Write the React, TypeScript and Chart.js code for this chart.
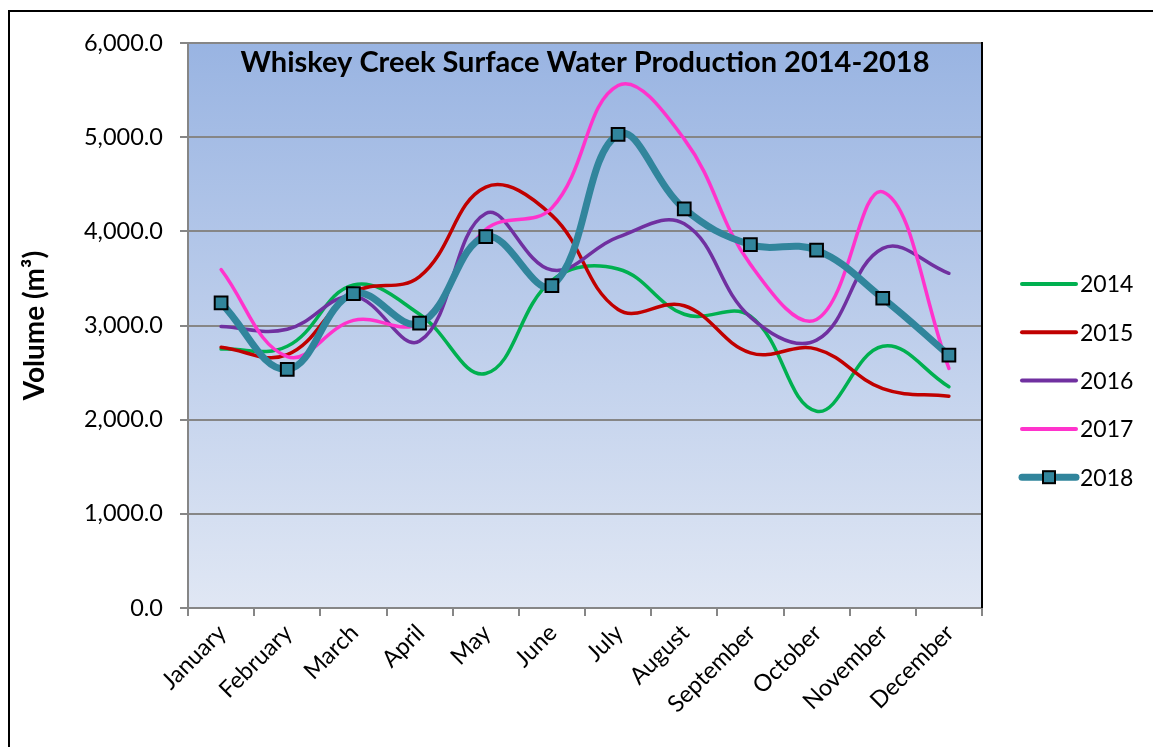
import React, { useEffect, useRef } from "react";
import { Chart, registerables } from "chart.js";

Chart.register(...registerables);

const months = ["January", "February", "March", "April", "May", "June", "July", "August", "September", "October", "November", "December"];
const series2014 = [2750, 2780, 3430, 3120, 2490, 3480, 3600, 3120, 3100, 2090, 2780, 2350];
const series2015 = [2770, 2690, 3350, 3520, 4470, 4170, 3170, 3210, 2710, 2750, 2330, 2250];
const series2016 = [2990, 2960, 3310, 2835, 4190, 3590, 3940, 4080, 3090, 2845, 3820, 3555];
const series2017 = [3595, 2670, 3055, 3030, 4020, 4250, 5550, 4980, 3650, 3065, 4420, 2545];
const series2018 = [3240, 2535, 3340, 3025, 3945, 3425, 5030, 4240, 3860, 3800, 3290, 2685];
const seriesLabels = ["2014", "2015", "2016", "2017", "2018"];
const seriesColors = ["#00b050", "#c00000", "#7030a0", "#ff33cc", "#31859c"];
const chartTitle = "Whiskey Creek Surface Water Production 2014-2018";
const yTitle = "Volume (m³)";

const FONT = "Lato, 'Open Sans', sans-serif";
const W = 1160;
const H = 760;

const bgPlugin = {
  id: "plotBg",
  beforeDraw(chart: any) {
    const { ctx, chartArea } = chart;
    const { left, right, top, bottom } = chartArea;
    const g = ctx.createLinearGradient(0, top, 0, bottom);
    g.addColorStop(0, "#99b4e2");
    g.addColorStop(1, "#e0e7f4");
    ctx.save();
    ctx.fillStyle = g;
    ctx.fillRect(left, top, right - left, bottom - top);
    ctx.restore();
  },
  beforeDatasetsDraw(chart: any) {
    const { ctx, chartArea } = chart;
    ctx.save();
    ctx.font = `bold 29px ${FONT}`;
    ctx.fillStyle = "#000";
    ctx.textAlign = "center";
    ctx.textBaseline = "alphabetic";
    ctx.fillText(chartTitle, (chartArea.left + chartArea.right) / 2, chartArea.top + 29);
    ctx.restore();
  },
  afterDraw(chart: any) {
    const { ctx, chartArea } = chart;
    ctx.save();
    ctx.strokeStyle = "#000";
    ctx.lineWidth = 2;
    ctx.beginPath();
    ctx.moveTo(chartArea.right, chartArea.top - 1);
    ctx.lineTo(chartArea.right, chartArea.bottom);
    ctx.stroke();
    const x0 = chartArea.right + 40;
    const x1 = chartArea.right + 94;
    const y0 = 272;
    const step = 48.3;
    chart.data.datasets.forEach((ds: any, i: number) => {
      const y = y0 + i * step;
      ctx.strokeStyle = ds.borderColor;
      ctx.lineWidth = i === 4 ? 7 : 4;
      ctx.lineCap = "round";
      ctx.beginPath();
      ctx.moveTo(x0, y);
      ctx.lineTo(x1, y);
      ctx.stroke();
      if (i === 4) {
        ctx.fillStyle = ds.pointBackgroundColor;
        ctx.strokeStyle = "#000";
        ctx.lineWidth = 2;
        const s = 12;
        const cx = (x0 + x1) / 2;
        ctx.fillRect(cx - s / 2, y - s / 2, s, s);
        ctx.strokeRect(cx - s / 2, y - s / 2, s, s);
      }
      ctx.fillStyle = "#000";
      ctx.font = `23px ${FONT}`;
      ctx.textAlign = "left";
      ctx.textBaseline = "middle";
      ctx.fillText(ds.label, x1 + 4, y + 1);
    });
    ctx.restore();
  },
};

export default function App() {
  const ref = useRef<HTMLCanvasElement | null>(null);
  useEffect(() => {
    if (!ref.current) return;
    const data = [series2014, series2015, series2016, series2017, series2018];
    const chart = new Chart(ref.current, {
      type: "line",
      data: {
        labels: months,
        datasets: data.map((d, i) => ({
          label: seriesLabels[i],
          data: d,
          borderColor: seriesColors[i],
          backgroundColor: seriesColors[i],
          borderWidth: i === 4 ? 7 : 3.5,
          tension: 0.4,
          order: 4 - i,
          pointStyle: "rect",
          pointRadius: i === 4 ? 9 : 0,
          pointHoverRadius: i === 4 ? 9 : 0,
          pointBackgroundColor: seriesColors[i],
          pointBorderColor: "#000",
          pointBorderWidth: 2,
          borderCapStyle: "round",
          fill: false,
        })),
      },
      options: {
        responsive: false,
        animation: false,
        devicePixelRatio: 1,
        layout: { padding: { top: 28, right: W - 972, bottom: 0, left: 0 } },
        plugins: {
          legend: { display: false },
          title: { display: false },
          tooltip: { enabled: false },
        },
        scales: {
          x: {
            type: "category",
            offset: true,
            afterFit(scale: any) {
              scale.height = H - 596;
            },
            grid: {
              offset: true,
              drawOnChartArea: false,
              drawTicks: true,
              tickLength: 8,
              color: "#868686",
              lineWidth: 2,
            },
            border: { color: "#868686", width: 2 },
            ticks: {
              autoSkip: false,
              maxRotation: 45,
              minRotation: 45,
              padding: 3,
              labelOffset: 1,
              color: "#000",
              font: { family: FONT, size: 23.5 },
            },
          },
          y: {
            min: 0,
            max: 6000,
            afterFit(scale: any) {
              scale.width = 178;
            },
            grid: {
              color: "#868686",
              lineWidth: 2,
              tickLength: 8,
              drawTicks: true,
            },
            border: { color: "#868686", width: 2 },
            ticks: {
              stepSize: 1000,
              padding: 17,
              color: "#000",
              font: { family: FONT, size: 23.5 },
              callback: (v: any) =>
                Number(v).toLocaleString("en-US", { minimumFractionDigits: 1, maximumFractionDigits: 1 }),
            },
            title: {
              display: true,
              text: yTitle,
              color: "#000",
              font: { family: FONT, size: 28, weight: "bold" },
              padding: { top: 8, bottom: 0 },
            },
          },
        },
      },
      plugins: [bgPlugin],
    });
    return () => chart.destroy();
  }, []);

  return (
    <div style={{ position: "fixed", inset: 0, overflow: "hidden", background: "#fff" }}>
      <div
        style={{
          position: "absolute",
          left: 8,
          top: 10,
          width: W,
          height: H,
          border: "2px solid #000",
        }}
      >
        <canvas ref={ref} width={W} height={H} style={{ width: W, height: H, display: "block" }} />
      </div>
    </div>
  );
}
